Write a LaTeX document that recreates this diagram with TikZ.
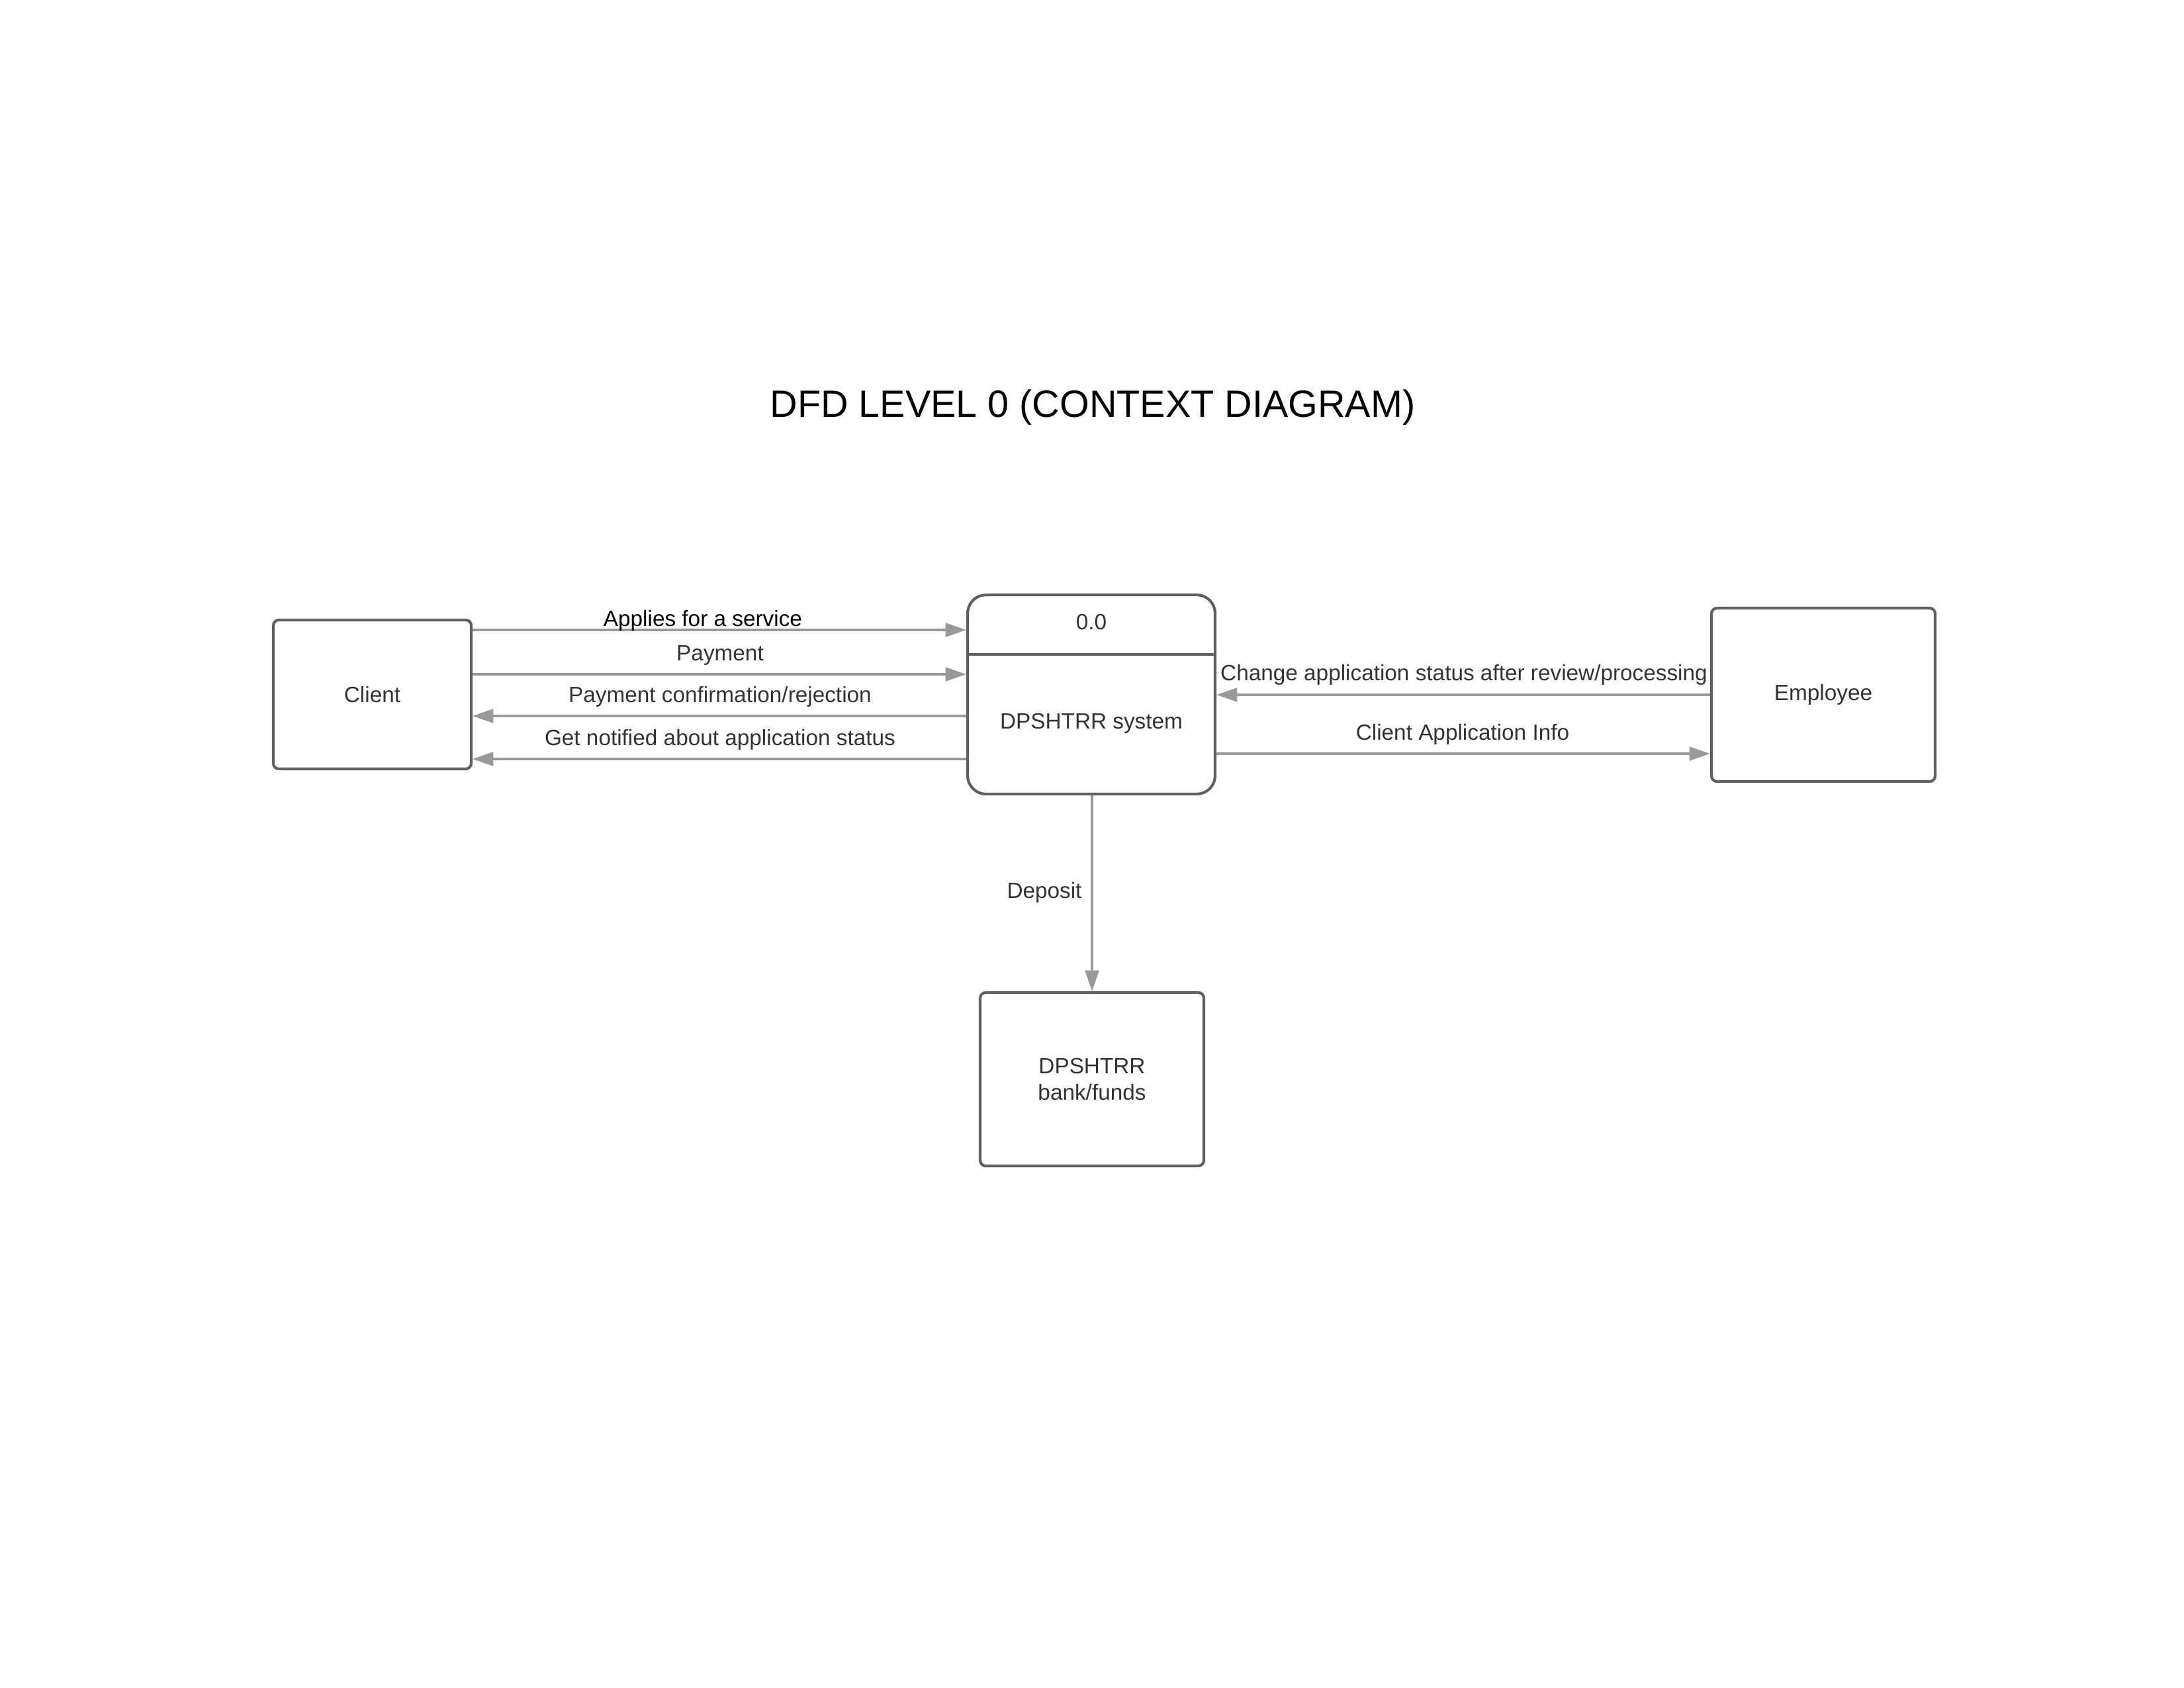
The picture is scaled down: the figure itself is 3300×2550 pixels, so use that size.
\documentclass[tikz,border=0pt]{standalone}
\usepackage{fontspec}
\setmainfont{Liberation Sans}
\usetikzlibrary{arrows.meta}
\definecolor{boxline}{RGB}{96,96,96}
\definecolor{flowline}{RGB}{153,153,153}
\definecolor{txt}{RGB}{51,51,51}
\tikzset{
  box/.style={draw=boxline, line width=1pt, fill=white, inner sep=0pt, text=txt,
    font=\fontsize{8pt}{9.6pt}\selectfont, align=center},
  flow/.style={draw=flowline, line width=0.75pt, -{Triangle[length=7.5pt,width=5pt]}},
  lbl/.style={text=txt, font=\fontsize{8pt}{9.6pt}\selectfont, inner sep=0pt, anchor=base},
}
\begin{document}
\begin{tikzpicture}[x=0.24pt,y=-0.24pt]
\useasboundingbox (0,0) rectangle (3300,2550);
% title
\node[anchor=base, inner sep=0pt, font=\fontsize{13.8pt}{16pt}\selectfont] (title) at (1651,630) {DFD LEVEL 0 (CONTEXT DIAGRAM)};
% nodes
\node[box, rounded corners=2pt, minimum width=71.76pt, minimum height=54pt] (client) at (562.5,1049.5) {Client};
\node[box, rounded corners=6.7pt, minimum width=89.76pt, minimum height=72.24pt] (proc) at (1649,1049.5) {};
\node[box, rounded corners=2pt, minimum width=81.12pt, minimum height=62.88pt] (emp) at (2755,1050) {Employee};
\node[box, rounded corners=2pt, minimum width=81.12pt, minimum height=62.88pt] (bank) at (1650,1631) {DPSHTRR\\bank/funds};
\coordinate (div) at (1649,989);
\draw[draw=boxline, line width=1pt] (proc.west |- div) -- (proc.east |- div);
\node[lbl] (pid) at (1649,951) {0.0};
\node[lbl] (pname) at (1649,1101) {DPSHTRR system};
% flow rows
\coordinate (r1) at (0,952);
\coordinate (r2) at (0,1019);
\coordinate (r3) at (0,1082);
\coordinate (r4) at (0,1147);
\coordinate (r5) at (0,1050);
\coordinate (r6) at (0,1139);
\draw[flow] (client.east |- r1) -- (proc.west |- r1);
\draw[flow] (client.east |- r2) -- (proc.west |- r2);
\draw[flow] (proc.west |- r3) -- (client.east |- r3);
\draw[flow] (proc.west |- r4) -- (client.east |- r4);
\draw[flow] (emp.west |- r5) -- (proc.east |- r5);
\draw[flow] (proc.east |- r6) -- (emp.west |- r6);
\draw[flow] (proc.south -| bank.north) -- (bank.north);
% labels
\node[lbl, text=black] (l1) at (1062,946) {Applies for a service};
\node[lbl] (l2) at (1088,998) {Payment};
\node[lbl] (l3) at (1088,1061) {Payment confirmation/rejection};
\node[lbl] (l4) at (1088,1126) {Get notified about application status};
\node[lbl] (l5) at (2212,1028) {Change application status after review/processing};
\node[lbl] (l6) at (2210,1118) {Client Application Info};
\node[lbl] (l7) at (1578,1357) {Deposit};
\end{tikzpicture}
\end{document}
